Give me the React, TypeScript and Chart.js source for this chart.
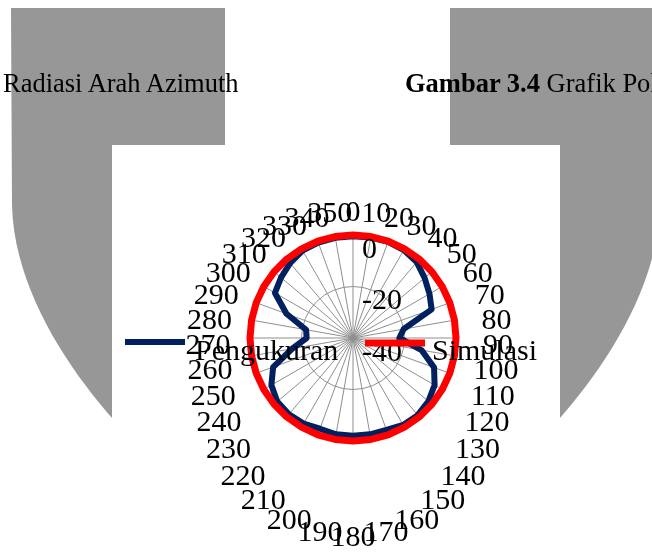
import React, { useEffect, useRef } from "react";
import { Chart, registerables } from "chart.js";

Chart.register(...registerables);

// ---- data ----
const ANGLES = [0, 10, 20, 30, 40, 50, 60, 70, 80, 90, 100, 110, 120, 130, 140, 150, 160, 170,
  180, 190, 200, 210, 220, 230, 240, 250, 260, 270, 280, 290, 300, 310, 320, 330, 340, 350];

const PENGUKURAN = [-0.5, -0.4, -0.3, -0.6, -1.5, -3.7, -5.7, -7.5, -20, -22, -13, -6.5,
  -3.4, -1.8, -0.9, -1, -2, -2, -2, -2, -2.5, -1.6, -1.3, -1.6, -3.4, -7, -16, -22, -21.5,
  -12.5, -5, -3.5, -2, -0.8, -0.6, -0.5];

const SIMULASI = [0, 0, 0, 0, 0, 0, 0, 0, 0, 0, 0, 0, 0, 0, 0, 0, 0, 0,
  0, 0, 0, 0, 0, 0, 0, 0, 0, 0, 0, 0, 0, 0, 0, 0, 0, 0];

const RADIAL_TICKS = [0, -20, -40];
const SERIES_NAMES = ["Pengukuran", "Simulasi"];
const SERIES_COLORS = ["#002060", "#ff0000"];

const FONT = '"Liberation Serif", "Times New Roman", serif';

// layout helpers (not data)
const LEGEND_LINE_X = [-228, 12];
const LEGEND_LINE_DY = [4, 5];
const LEGEND_TEXT_X = [-158, 79];
const LABEL_DY = 8;

// distance of an angle label's centre beyond the outer ring
function labelGap(index: number): number {
  const a = (ANGLES[index] * Math.PI) / 180;
  const s = Math.sin(a);
  const c = Math.cos(a);
  return 22 + 8 * c + 20 * s * s + (c < 0 ? 75 * c * c : 0);
}

const overlayPlugin = {
  id: "overlay",
  afterDraw(chart: any) {
    const s = chart.scales.r;
    const ctx = chart.ctx as CanvasRenderingContext2D;
    ctx.save();
    ctx.font = `30px ${FONT}`;
    ctx.fillStyle = "#000";

    // angle labels, centred on their spoke direction
    ctx.textAlign = "center";
    ctx.textBaseline = "middle";
    (chart.data.labels as string[]).forEach((lab, i) => {
      const p = s.getPointPosition(i, s.drawingArea + labelGap(i));
      ctx.fillText(lab, p.x, p.y + LABEL_DY);
    });

    // radial tick labels
    ctx.textAlign = "left";
    RADIAL_TICKS.forEach((v) => {
      const d = s.getDistanceFromCenterForValue(v);
      ctx.fillText(String(v), s.xCenter + 9, s.yCenter - d + 15);
    });

    // legend
    chart.data.datasets.forEach((ds: any, i: number) => {
      ctx.strokeStyle = ds.borderColor;
      ctx.lineWidth = ds.borderWidth;
      ctx.lineCap = "butt";
      ctx.beginPath();
      const x0 = s.xCenter + LEGEND_LINE_X[i];
      const y0 = s.yCenter + LEGEND_LINE_DY[i];
      ctx.moveTo(x0, y0);
      ctx.lineTo(x0 + 60, y0);
      ctx.stroke();
      ctx.fillStyle = "#000";
      ctx.fillText(ds.label, s.xCenter + LEGEND_TEXT_X[i], s.yCenter + 14);
    });
    ctx.restore();
  },
};

function PolarChart() {
  const ref = useRef<HTMLCanvasElement | null>(null);
  useEffect(() => {
    if (!ref.current) return;
    const chart = new Chart(ref.current, {
      type: "radar",
      data: {
        labels: ANGLES.map((a) => String(a)),
        datasets: [
          {
            label: SERIES_NAMES[0],
            data: PENGUKURAN,
            borderColor: SERIES_COLORS[0],
            backgroundColor: SERIES_COLORS[0],
            borderWidth: 6,
            pointRadius: 0,
            pointHoverRadius: 0,
            fill: false,
            tension: 0,
            borderJoinStyle: "round",
            order: 1,
          },
          {
            label: SERIES_NAMES[1],
            data: SIMULASI,
            borderColor: SERIES_COLORS[1],
            backgroundColor: SERIES_COLORS[1],
            borderWidth: 7,
            pointRadius: 0,
            pointHoverRadius: 0,
            fill: false,
            tension: 0,
            borderJoinStyle: "round",
            order: 0,
          },
        ],
      },
      options: {
        responsive: false,
        animation: false,
        devicePixelRatio: 1,
        layout: { padding: { left: 138, right: 196, top: 90, bottom: 111 } },
        plugins: { legend: { display: false }, tooltip: { enabled: false } },
        scales: {
          r: {
            min: -40,
            max: 0,
            ticks: { display: false, stepSize: 20 },
            grid: { color: "#8f8f8f", lineWidth: 1, circular: true },
            angleLines: { color: "#8f8f8f", lineWidth: 1 },
            pointLabels: { display: false },
          },
        },
      } as any,
      plugins: [overlayPlugin],
    });
    return () => chart.destroy();
  }, []);
  return (
    <canvas
      ref={ref}
      width={540}
      height={407}
      style={{ position: "absolute", left: 112, top: 145 }}
    />
  );
}

export default function App() {
  return (
    <div
      style={{
        position: "fixed",
        left: 0,
        top: 0,
        width: 652,
        height: 552,
        overflow: "hidden",
        background: "#ffffff",
      }}
    >
      <svg
        width={652}
        height={552}
        style={{ position: "absolute", left: 0, top: 0 }}
      >
        <path
          d="M 11 8 H 225 V 145 H 112 V 418 C 70 370, 14 290, 12 205 Z"
          fill="#979797"
        />
        <path
          d="M 661 8 H 450 V 145 H 560 V 418 C 602 370, 658 290, 660 205 Z"
          fill="#979797"
        />
      </svg>
      <PolarChart />
      <svg
        width={652}
        height={552}
        style={{ position: "absolute", left: 0, top: 0, pointerEvents: "none" }}
      >
        <text x={3} y={92} fontFamily={FONT} fontSize={26.5} fill="#000">
          Radiasi Arah Azimuth
        </text>
        <text x={405} y={92} fontFamily={FONT} fontSize={26.5} fill="#000">
          <tspan fontWeight="bold">Gambar 3.4</tspan> Grafik Pola
        </text>
      </svg>
    </div>
  );
}
